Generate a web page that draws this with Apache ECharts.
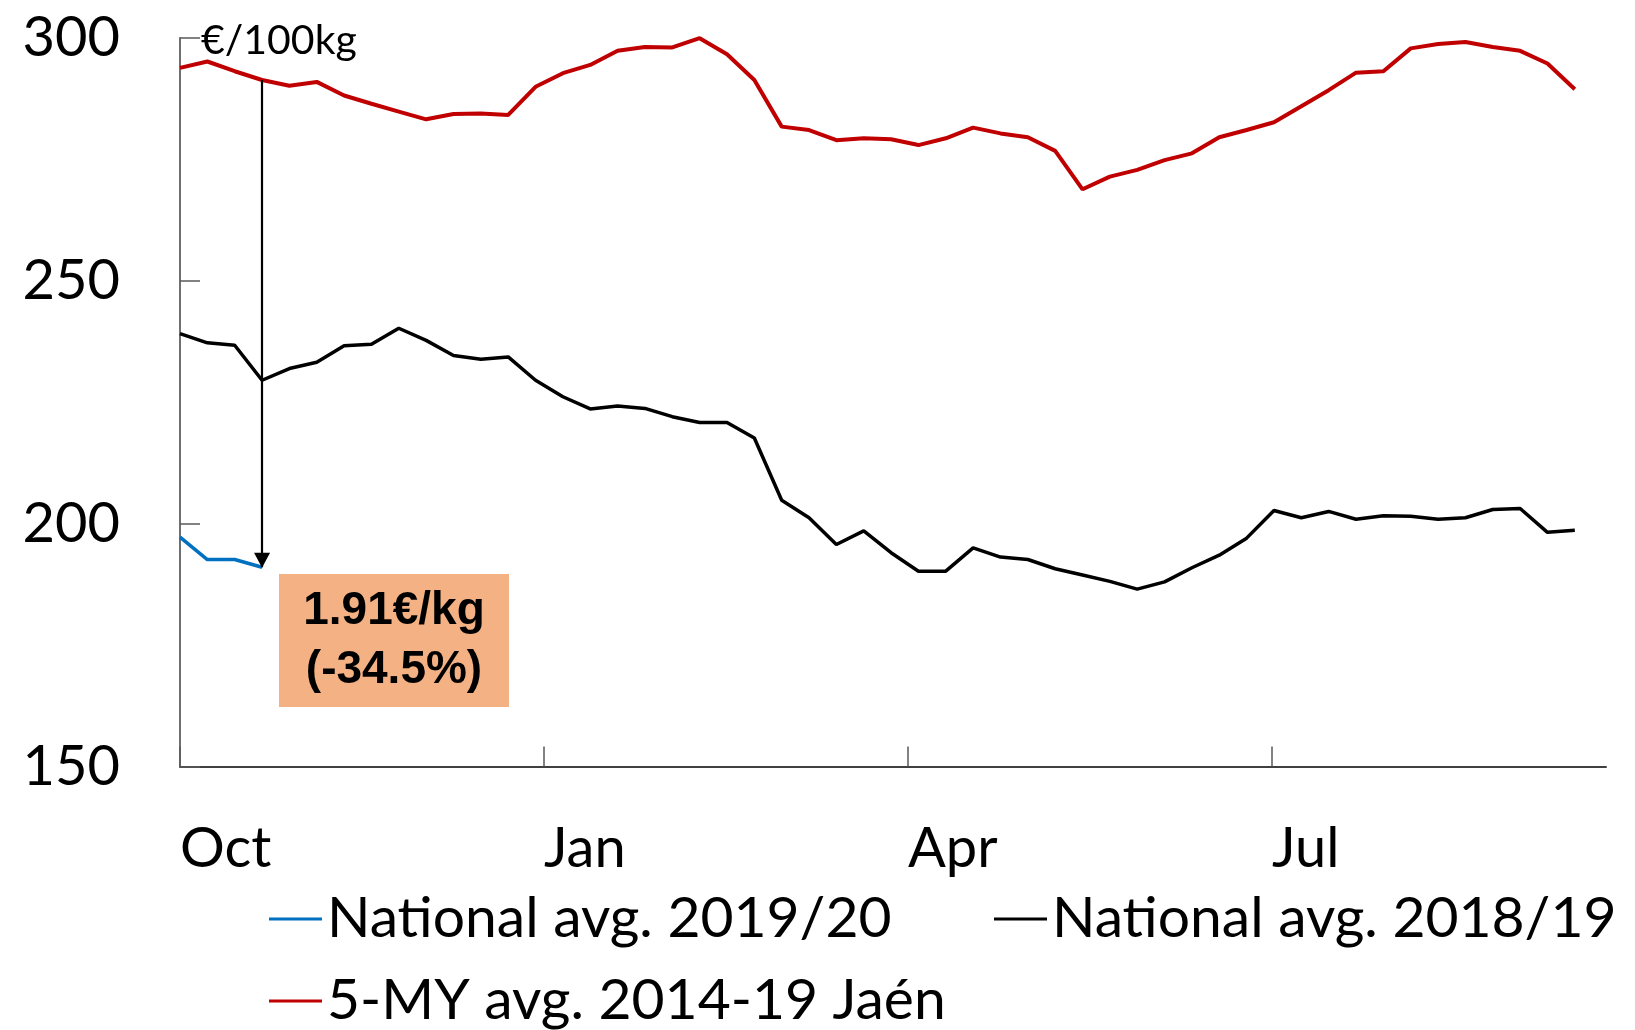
<!DOCTYPE html>
<html>
<head>
<meta charset="utf-8">
<title>Olive oil prices</title>
<script src="https://cdn.jsdelivr.net/npm/echarts@6/dist/echarts.min.js"></script>
<style>
  html, body { margin: 0; padding: 0; background: #fff; }
  #chart { width: 1635px; height: 1030px; }
</style>
</head>
<body>
<div id="chart"></div>
<script>
// weekly prices, €/100kg, week 0 = start of October
const national1920 = [197.2, 192.6, 192.6, 191.0]
const national1819 = [
  239.1, 237.2, 236.7, 229.5, 231.9, 233.2, 236.6, 236.9, 240.2, 237.7,
  234.6, 233.8, 234.3, 229.5, 226.1, 223.6, 224.2, 223.7, 222.0, 220.8,
  220.8, 217.6, 204.8, 201.2, 195.7, 198.5, 194.0, 190.2, 190.2, 195.0,
  193.1, 192.6, 190.7, 189.4, 188.1, 186.5, 188.0, 190.9, 193.5, 197.0,
  202.7, 201.2, 202.5, 200.9, 201.6, 201.5, 200.9, 201.2, 202.9, 203.1,
  198.2, 198.6
]
const jaen5y = [
  293.8, 295.1, 293.1, 291.3, 290.1, 290.9, 288.1, 286.4, 284.8, 283.2,
  284.3, 284.4, 284.1, 289.9, 292.7, 294.4, 297.3, 298.1, 298.0, 299.9,
  296.6, 291.3, 281.7, 281.0, 278.9, 279.3, 279.1, 277.9, 279.3, 281.5,
  280.3, 279.5, 276.7, 268.8, 271.4, 272.8, 274.8, 276.2, 279.5, 281.0,
  282.6, 285.9, 289.2, 292.8, 293.1, 297.8, 298.7, 299.1, 298.1, 297.3,
  294.7, 289.4
]
const tickWeeks = [0, 13.31, 26.62, 39.93]
const tickLabels = ['Oct', 'Jan', 'Apr', 'Jul']
const names = ['National avg. 2019/20', 'National avg. 2018/19', '5-MY avg. 2014-19 Jaén']
const lastWeek = national1920.length - 1

const toPoints = arr => arr.map((v, i) => [i, v])
const font = 'Lato'

const chart = echarts.init(document.getElementById('chart'))
const legendBase = {
  orient: 'horizontal',
  icon: 'rect',
  itemWidth: 53,
  itemHeight: 3,
  selectedMode: false,
  textStyle: { fontFamily: font, fontSize: 57, color: '#000', lineHeight: 60 }
}
const option = {
  animation: false,
  legend: [
    { ...legendBase, left: 264, top: 884, data: [names[0]] },
    { ...legendBase, left: 989, top: 884, data: [names[1]] },
    { ...legendBase, left: 264, top: 966, data: [names[2]] }
  ],
  grid: { left: 180, right: 29, top: 37.7, bottom: 263.5 },
  xAxis: {
    type: 'value',
    min: 0,
    max: 52.14,
    splitLine: { show: false },
    axisLine: { lineStyle: { color: '#404040', width: 2 } },
    axisTick: {
      inside: true,
      length: 20,
      customValues: tickWeeks,
      lineStyle: { color: '#595959', width: 1.5 }
    },
    axisLabel: {
      customValues: tickWeeks,
      align: 'left',
      verticalAlign: 'middle',
      margin: 82,
      fontFamily: font,
      fontSize: 56,
      color: '#000',
      formatter: v => tickLabels[tickWeeks.indexOf(v)] || ''
    }
  },
  yAxis: {
    type: 'value',
    min: 150,
    max: 300,
    interval: 50,
    name: '€/100kg',
    nameLocation: 'end',
    nameGap: -3,
    nameTextStyle: {
      fontFamily: font,
      fontSize: 41,
      color: '#000',
      align: 'left',
      verticalAlign: 'middle',
      padding: [0, 0, 0, 21]
    },
    splitLine: { show: false },
    axisLine: { show: true, lineStyle: { color: '#404040', width: 1.5 } },
    axisTick: { show: true, inside: true, length: 20, lineStyle: { color: '#595959', width: 1.5 } },
    axisLabel: { margin: 60, fontFamily: font, fontSize: 56, color: '#000' }
  },
  series: [
    {
      name: names[0],
      type: 'line',
      symbol: 'none',
      color: '#0070C0',
      lineStyle: { width: 3.5 },
      data: toPoints(national1920),
      z: 4,
      markLine: {
        silent: true,
        symbol: ['none', 'triangle'],
        symbolSize: [16, 15],
        symbolOffset: [0, [0, 7]],
        label: { show: false },
        lineStyle: { color: '#000', width: 2.2, type: 'solid' },
        emphasis: { disabled: true },
        data: [[
          { coord: [lastWeek, jaen5y[lastWeek]] },
          { coord: [lastWeek, national1920[lastWeek]] }
        ]]
      }
    },
    {
      name: names[1],
      type: 'line',
      symbol: 'none',
      color: '#000000',
      lineStyle: { width: 3.5 },
      data: toPoints(national1819)
    },
    {
      name: names[2],
      type: 'line',
      symbol: 'none',
      color: '#C00000',
      lineStyle: { width: 4 },
      data: toPoints(jaen5y)
    }
  ],
  graphic: [{
    type: 'group',
    left: 279,
    top: 574,
    children: [
      { type: 'rect', shape: { x: 0, y: 0, width: 230, height: 133 }, style: { fill: '#F4B183' } },
      {
        type: 'text',
        x: 115,
        y: 67,
        style: {
          text: '1.91€/kg\n(-34.5%)',
          fill: '#000',
          font: 'bold 46px "Liberation Sans"',
          lineHeight: 59,
          align: 'center',
          verticalAlign: 'middle'
        }
      }
    ]
  }]
}
chart.setOption(option)
</script>
</body>
</html>
